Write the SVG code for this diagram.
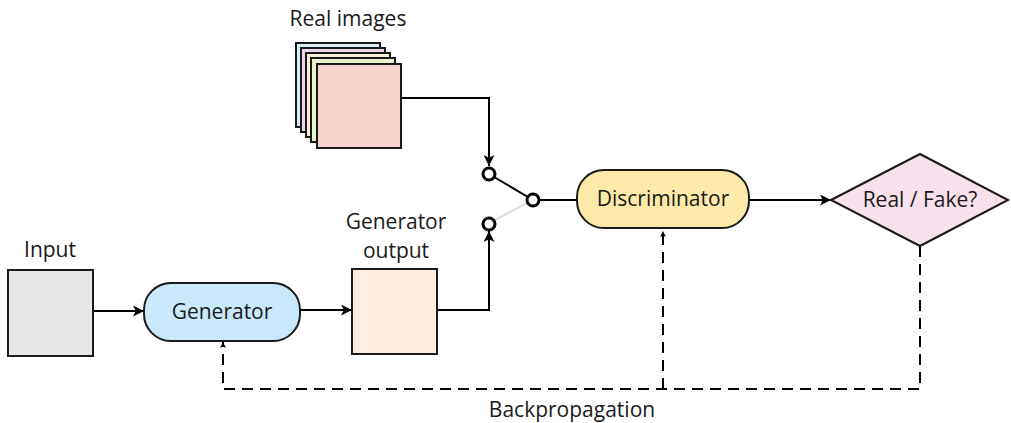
<svg xmlns="http://www.w3.org/2000/svg" width="1011" height="423" viewBox="0 0 1011 423">
  <style>
    .lbl { font-family: "Open Sans", "Noto Sans", "Liberation Sans", sans-serif; font-size: 21px; fill: #1a1a1a; text-anchor: middle; }
    .box { stroke: #1a1a1a; stroke-width: 2; }
    .wire { fill: none; stroke: #000; stroke-width: 2; }
    .dash { fill: none; stroke: #000; stroke-width: 2; stroke-dasharray: 11 7; }
    .pin { fill: #fff; stroke: #000; stroke-width: 3; }
  </style>
  <defs>
    <marker id="arr" viewBox="0 0 10 10" refX="10" refY="5" markerWidth="6" markerHeight="6" markerUnits="userSpaceOnUse" orient="auto">
      <path d="M0,0 L10,5 L0,10 L2.5,5 Z" fill="#000"/>
    </marker>
    <marker id="arrL" viewBox="0 0 10 10" refX="10" refY="5" markerWidth="11" markerHeight="11" markerUnits="userSpaceOnUse" orient="auto">
      <path d="M0,0 L10,5 L0,10 L2.5,5 Z" fill="#000"/>
    </marker>
  </defs>

  <!-- connectors -->
  <g id="connectors">
    <path class="wire" d="M401,98 H489 V166" marker-end="url(#arrL)"/>
    <line x1="489" y1="174" x2="533" y2="200" stroke="#000" stroke-width="2"/>
    <line x1="533" y1="200" x2="489" y2="223" stroke="#e3e3e3" stroke-width="2.5"/>
    <line x1="533" y1="200" x2="577" y2="200" stroke="#000" stroke-width="2"/>
    <path class="wire" d="M437,310 H489 V231" marker-end="url(#arrL)"/>
    <line class="wire" x1="93" y1="311" x2="144" y2="311" marker-end="url(#arrL)"/>
    <line class="wire" x1="300" y1="310" x2="352" y2="310" marker-end="url(#arrL)"/>
    <line class="wire" x1="749" y1="200" x2="831" y2="200" marker-end="url(#arrL)"/>
    <path class="dash" d="M920,246 V389 H223 V342" marker-end="url(#arr)"/>
    <path class="dash" d="M663,389 V231" marker-end="url(#arr)"/>
    <circle class="pin" cx="489" cy="174" r="6"/>
    <circle class="pin" cx="533" cy="200" r="6"/>
    <circle class="pin" cx="489" cy="224" r="6"/>
  </g>

  <!-- real image stack -->
  <g id="real-images">
    <rect class="box" x="296" y="43" width="84" height="84" fill="#d8edf4"/>
    <rect class="box" x="301" y="48" width="84" height="84" fill="#ecd7ea"/>
    <rect class="box" x="306" y="53" width="84" height="84" fill="#fbf0d6"/>
    <rect class="box" x="311" y="58" width="84" height="84" fill="#eaf2cb"/>
    <rect class="box" x="317" y="64" width="84" height="84" fill="#f3d3cb"/>
    <text class="lbl" x="348" y="26">Real images</text>
  </g>

  <g id="input">
    <rect class="box" x="8" y="270" width="85" height="86" fill="#e6e7e8"/>
    <text class="lbl" x="50" y="257">Input</text>
  </g>

  <g id="generator">
    <rect class="box" x="144" y="283" width="156" height="58" rx="27" fill="#c9e8f9"/>
    <text class="lbl" x="222" y="319">Generator</text>
  </g>

  <g id="generator-output">
    <rect class="box" x="352" y="269" width="85" height="85" fill="#fdeee1"/>
    <text class="lbl" x="396" y="229">Generator</text>
    <text class="lbl" x="396" y="258">output</text>
  </g>

  <g id="discriminator">
    <rect class="box" x="577" y="170" width="172" height="58" rx="27" fill="#fdeaa8"/>
    <text class="lbl" x="663" y="206">Discriminator</text>
  </g>

  <g id="decision">
    <polygon class="box" points="831,200 920,154 1008,200 920,246" fill="#f8e0ed"/>
    <text class="lbl" x="920" y="207">Real / Fake?</text>
  </g>

  <g id="backprop-label">
    <text class="lbl" x="572" y="417">Backpropagation</text>
  </g>
</svg>
